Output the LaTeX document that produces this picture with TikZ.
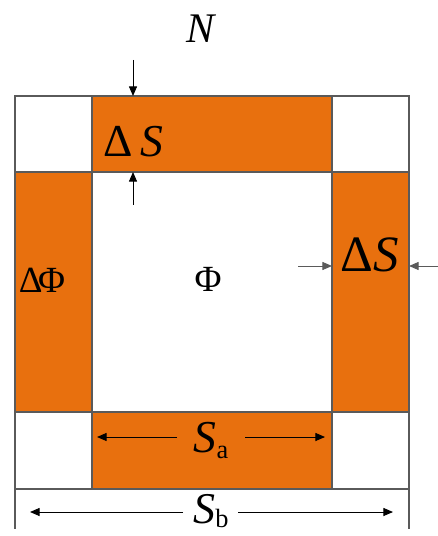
\documentclass[tikz,border=0pt]{standalone}
\usepackage{fontspec}
\setmainfont{Liberation Serif}
\usetikzlibrary{arrows.meta}
\definecolor{coreorange}{HTML}{E8700E}
\definecolor{edgegray}{HTML}{5A5A5A}

\begin{document}
\begin{tikzpicture}[x=0.02cm,y=-0.02cm,>={Triangle[length=5.5pt,width=4.6pt]},
 band/.style={fill=coreorange,draw=edgegray,line width=.6pt},
 cell/.style={fill=white,draw=edgegray,line width=.6pt},
 dim/.style={->,line width=.55pt},
 lbl/.style={inner sep=0pt,anchor=base}]
\useasboundingbox (0,0) rectangle (438,536);
% corner cells and the four bands
\draw[cell] (15,96) rectangle (92,172);\draw[cell] (332,96) rectangle (409,172);
\draw[cell] (15,412) rectangle (92,489);\draw[cell] (332,412) rectangle (409,489);
\draw[band] (92,96) rectangle (332,172);\draw[band] (92,412) rectangle (332,489);
\draw[band] (15,172) rectangle (92,412);\draw[band] (332,172) rectangle (409,412);
% extension lines for S_b
\draw[edgegray,line width=.6pt] (15,489)--(15,529) (409,489)--(409,529);
% labels
\node[lbl,font=\fontsize{24}{24}\selectfont] (n) at (202,43) {\textit{N}};
\node[lbl,font=\fontsize{26}{26}\selectfont] (dst) at (133,157) {Δ\,\textit{S}};
\node[lbl,font=\fontsize{29}{29}\selectfont] (dsr) at (370,272) {Δ\textit{S}};
\node[lbl,font=\fontsize{21}{21}\selectfont] (dphi) at (42,292) {Δ\kern-.12emΦ};
\node[lbl,font=\fontsize{21}{21}\selectfont] (phi) at (208,291) {Φ};
\node[lbl,font=\fontsize{26}{26}\selectfont] (sa) at (211,452) {\textit{S}\raisebox{-.3ex}{\fontsize{15}{15}\selectfont a}};
\node[lbl,font=\fontsize{25}{25}\selectfont] (sb) at (211,523) {\textit{S}\raisebox{-.2ex}{\fontsize{15}{15}\selectfont b}};
% thickness arrows
\coordinate (t1) at (133,60);\coordinate (t2) at (133,96);
\coordinate (t3) at (133,205);\coordinate (t4) at (133,172);
\draw[dim] (t1)--(t2);\draw[dim] (t3)--(t4);
\coordinate (r1) at (298,266);\coordinate (r2) at (332,266);
\coordinate (r3) at (438,266);\coordinate (r4) at (409,266);
\draw[dim,edgegray] (r1)--(r2);\draw[dim,edgegray] (r3)--(r4);
% width arrows
\coordinate (a1) at (177,437);\coordinate (a2) at (97,437);
\coordinate (a3) at (245,437);\coordinate (a4) at (325,437);
\draw[dim] (a1)--(a2);\draw[dim] (a3)--(a4);
\coordinate (b1) at (183,512);\coordinate (b2) at (30,512);
\coordinate (b3) at (238,512);\coordinate (b4) at (393,512);
\draw[dim] (b1)--(b2);\draw[dim] (b3)--(b4);
\end{tikzpicture}
\end{document}
